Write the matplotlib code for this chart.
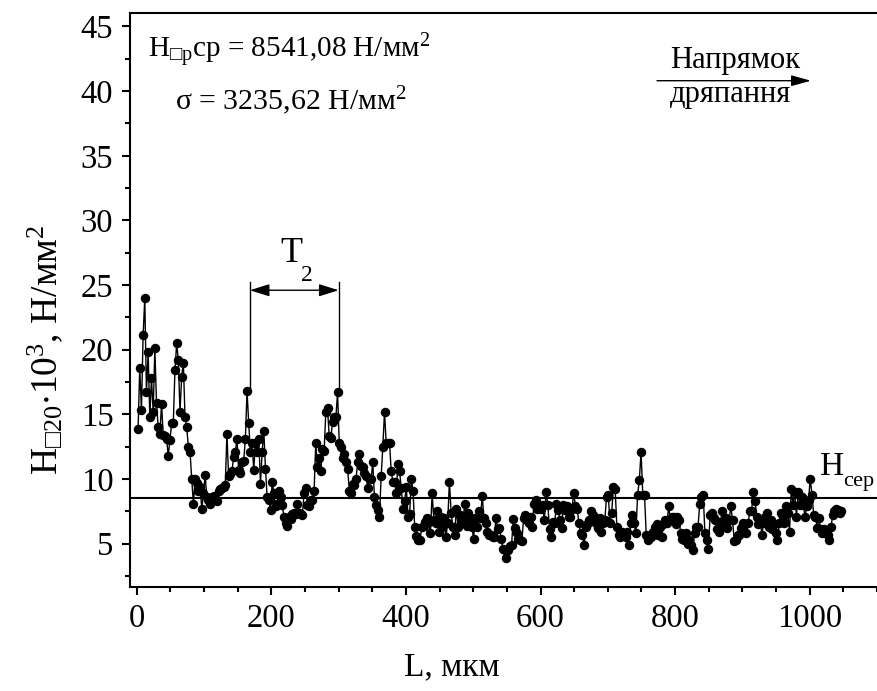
import numpy as np
import matplotlib
matplotlib.use("Agg")
import matplotlib.pyplot as plt
from matplotlib.ticker import MultipleLocator

plt.rcParams['font.family'] = ['Liberation Serif', 'DejaVu Sans']
plt.rcParams['mathtext.fontset'] = 'custom'
plt.rcParams['mathtext.rm'] = 'Liberation Serif'
plt.rcParams['mathtext.it'] = 'Liberation Serif:italic'
plt.rcParams['mathtext.bf'] = 'Liberation Serif:bold'
plt.rcParams['mathtext.fallback'] = 'stix'

# ---- data (H, 10^3 N/mm^2) ----
seg1_start, seg1_end = 2, 418
hardness_seg1 = [
    13.9, 18.6, 15.3, 21.1, 24.0, 16.7, 19.8, 14.8, 17.8, 15.2,
    20.1, 15.9, 14.0, 13.5, 15.8, 13.4, 13.3, 13.1, 11.8, 13.0,
    14.3, 14.3, 18.4, 20.5, 19.2, 15.2, 17.9, 19.0, 14.8, 14.0,
    12.5, 12.1, 10.0, 8.1, 10.0, 9.7, 9.1, 9.4, 7.7, 8.9,
    10.3, 8.6, 8.4, 8.1, 8.6, 8.7, 8.5, 8.3, 9.1, 9.2,
    9.3, 9.4, 9.5, 13.5, 10.2, 10.4, 10.6, 11.7, 12.1, 13.1,
    10.7, 10.5, 11.3, 11.4, 13.1, 16.8, 14.3, 12.1, 12.8, 10.7,
    12.8, 12.1, 13.1, 9.6, 12.1, 13.7, 10.8, 8.6, 8.4, 7.6,
    9.8, 8.9, 7.9, 8.1, 9.1, 8.6, 8.0, 7.1, 6.6, 6.4,
    7.1, 6.9, 7.3, 7.4, 7.3, 8.1, 7.4, 7.3, 7.2, 8.9,
    9.3, 8.0, 7.9, 8.4, 8.4, 9.1, 12.8, 10.9, 11.6, 10.6,
    12.3, 12.2, 15.2, 15.5, 13.3, 13.2, 14.4, 14.8, 14.8, 16.7,
    12.8, 12.5, 11.6, 11.9, 11.3, 10.8, 9.1, 8.9, 9.6, 9.5,
    10.0, 11.3, 11.9, 11.0, 10.9, 10.5, 10.2, 9.3, 10.1, 10.0,
    11.3, 8.6, 8.0, 7.6, 7.1, 10.2, 12.5, 15.2, 12.8, 12.8,
    12.8, 10.6, 9.8, 9.8, 8.9, 11.2, 10.6, 9.3, 7.7, 8.3,
    9.4, 7.1, 7.3, 10.0, 9.1, 6.3, 5.6, 5.3,
]
seg2_start, seg2_end = 421, 1047
hardness_seg2 = [
    5.3, 6.3, 6.4, 6.7, 7.0, 6.7, 5.8, 8.9, 6.8, 6.6,
    7.5, 5.9, 7.1, 6.3, 7.0, 5.5, 6.6, 9.8, 7.4, 6.3,
    5.7, 7.7, 6.3, 7.2, 6.7, 7.1, 8.1, 6.4, 7.4, 6.8,
    6.3, 5.4, 7.0, 6.3, 7.5, 7.0, 8.7, 7.0, 6.6, 5.9,
    5.7, 5.7, 5.5, 5.5, 7.0, 6.1, 6.2, 5.4, 4.6, 4.5,
    3.9, 4.5, 4.8, 4.9, 6.9, 6.2, 5.8, 5.4, 5.3, 5.2,
    7.0, 7.2, 6.8, 6.6, 7.1, 6.3, 8.1, 8.4, 7.7, 7.9,
    7.7, 8.0, 6.8, 9.0, 8.0, 6.1, 5.5, 6.7, 6.6, 8.1,
    7.6, 6.8, 6.2, 8.0, 7.6, 7.9, 7.1, 7.1, 7.7, 8.9,
    7.9, 7.7, 6.6, 5.8, 5.7, 4.9, 6.3, 6.6, 6.8, 7.5,
    7.2, 7.1, 6.6, 6.2, 7.0, 5.9, 6.6, 6.8, 8.6, 8.8,
    6.6, 7.4, 9.4, 9.2, 6.3, 5.7, 5.5, 5.9, 5.7, 5.5,
    5.9, 4.9, 6.6, 7.2, 6.6, 5.8, 8.8, 9.9, 12.1, 8.8,
    8.8, 5.7, 5.3, 5.7, 5.5, 5.9, 6.3, 6.5, 5.7, 6.3,
    5.5, 6.5, 6.8, 6.6, 7.9, 6.8, 7.1, 7.1, 6.5, 7.1,
    6.8, 5.8, 5.4, 5.3, 5.8, 5.0, 5.3, 4.9, 4.5, 5.8,
    6.3, 6.3, 8.1, 8.6, 8.8, 5.8, 5.3, 4.6, 7.2, 7.4,
    7.0, 6.8, 6.1, 5.9, 6.7, 7.5, 6.3, 7.0, 6.2, 6.8,
    7.9, 6.8, 5.2, 5.3, 5.7, 5.7, 6.2, 6.6, 6.5, 5.8,
    6.6, 7.5, 7.5, 9.0, 8.3, 7.1, 6.5, 6.8, 5.7, 6.6,
    7.1, 7.4, 6.3, 6.8, 6.1, 6.5, 5.8, 5.3, 6.6, 7.4,
    7.1, 6.6, 7.9, 7.4, 5.9, 9.2, 8.0, 9.0, 7.1, 9.0,
    8.0, 8.6, 8.0, 7.1, 7.9, 8.4, 10.0, 8.8, 7.2, 7.1,
    6.2, 7.0, 6.1, 5.8, 6.1, 5.8, 5.7, 5.3, 6.3, 7.2,
    7.5, 7.7, 7.6, 7.4, 7.5,
]
H_mean = 8.54108
T2_left, T2_right = 168, 300
T2_left_val, T2_right_val = 16.8, 16.7

x_ticks = [0, 200, 400, 600, 800, 1000]
y_ticks = [5, 10, 15, 20, 25, 30, 35, 40, 45]

L = np.concatenate([np.linspace(seg1_start, seg1_end, len(hardness_seg1)),
                    np.linspace(seg2_start, seg2_end, len(hardness_seg2))])
H = np.array(hardness_seg1 + hardness_seg2)

W, Hpx = 877, 691
fig = plt.figure(figsize=(W / 100, Hpx / 100), dpi=100)
ax = fig.add_axes([130 / W, 1 - 587 / Hpx, 1 - 130 / W, (587 - 13) / Hpx])
ax.set_xlim(-10, 1100)
ax.set_ylim(1.65, 46.04)

ax.axhline(H_mean, color='black', lw=1.5, zorder=1)
ax.plot(L, H, '-o', color='black', lw=1.0, ms=5.8, mfc='black', mec='black', zorder=3)

# T2 marker
ax.plot([T2_left, T2_left], [T2_left_val, 25.26], color='black', lw=1.0)
ax.plot([T2_right, T2_right], [T2_right_val, 25.26], color='black', lw=1.0)
ax.annotate('', xy=(T2_left, 24.6), xytext=(T2_right, 24.6),
            arrowprops=dict(arrowstyle='<|-|>,head_length=0.8,head_width=0.25',
                            color='black', lw=1.0, mutation_scale=15,
                            shrinkA=0, shrinkB=0))
fig.text(280 / W, 1 - 262 / Hpx, 'T', fontsize=26, ha='left', va='baseline')
fig.text(301 / W, 1 - 281 / Hpx, '2', fontsize=17, ha='left', va='baseline')

# H_sep label
fig.text(820 / W, 1 - 475 / Hpx, 'H', fontsize=24, ha='left', va='baseline')
fig.text(843 / W, 1 - 486 / Hpx, 'сер', fontsize=16, ha='left', va='baseline')

# statistics text
fig.text(148 / W, 1 - 58 / Hpx, r'H$_{\mathrm{□p}}$ср = 8541,08 Н/мм$^{2}$',
         fontsize=21, ha='left', va='baseline')
fig.text(175 / W, 1 - 110 / Hpx, r'σ = 3235,62 Н/мм$^{2}$',
         fontsize=21.5, ha='left', va='baseline')

# direction
fig.text(670 / W, 1 - 68 / Hpx, 'Напрямок', fontsize=22, ha='left', va='baseline')
fig.text(670 / W, 1 - 102 / Hpx, 'дряпання', fontsize=22, ha='left', va='baseline')
ax.annotate('', xy=(811 / W, 1 - 80.7 / Hpx), xytext=(657 / W, 1 - 80.7 / Hpx),
            xycoords='figure fraction', textcoords='figure fraction',
            arrowprops=dict(arrowstyle='-|>,head_length=0.8,head_width=0.22',
                            color='black', lw=1.0, mutation_scale=15,
                            shrinkA=0, shrinkB=0))

# axes styling
for s in ['top', 'left', 'bottom']:
    ax.spines[s].set_linewidth(1.5)
ax.spines['right'].set_visible(False)
ax.set_xticks(x_ticks)
ax.set_yticks(y_ticks)
ax.xaxis.set_minor_locator(MultipleLocator(50))
ax.yaxis.set_minor_locator(MultipleLocator(2.5))
ax.tick_params(which='both', direction='out', top=False, right=False, width=1.5)
ax.tick_params(which='major', length=6, labelsize=23.5, pad=6)
ax.tick_params(which='minor', length=3.5)

fig.text(452 / W, 1 - 667 / Hpx, 'L, мкм', fontsize=24, ha='center', va='center')
fig.text(45 / W, 1 - 350 / Hpx, r'H$_{□20}$$\cdot$10$^{3}$, Н/мм$^{2}$',
         fontsize=27, rotation=90, ha='center', va='center')

fig.savefig('out.png', dpi=100)
